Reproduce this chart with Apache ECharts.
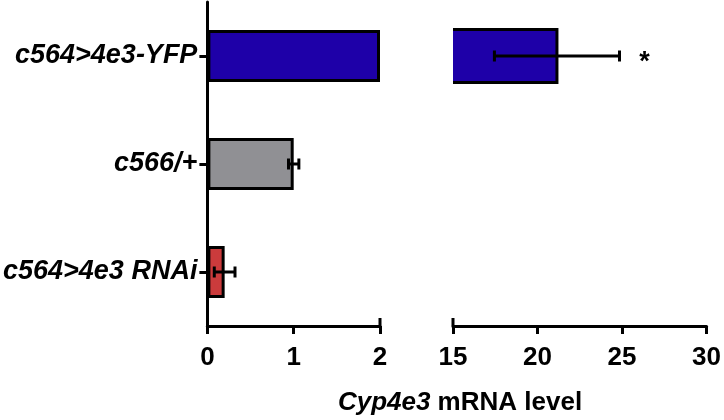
<!DOCTYPE html>
<html>
<head>
<meta charset="utf-8">
<script src="https://cdn.jsdelivr.net/npm/echarts@6/dist/echarts.min.js"></script>
<style>
html,body{margin:0;padding:0;background:#fff;}
#chart{width:724px;height:420px;}
</style>
</head>
<body>
<div id="chart"></div>
<script>
// ---- data ----
const categories = ['c564>4e3-YFP', 'c566/+', 'c564>4e3 RNAi'];
const means = [21.15, 1.0, 0.2];
const sems = [3.7, 0.06, 0.12];
const barColors = ['#1E00A8', '#909094', '#CB3B3C'];
const marks = ['*', '', ''];
const leftAxis = { min: 0, max: 2, interval: 1 };
const rightAxis = { min: 15, max: 30, interval: 5 };
const axisTitleItalic = 'Cyp4e3';
const axisTitleRest = ' mRNA level';

// ---- chart ----
const FONT = 'Liberation Sans, Arial, Helvetica, sans-serif';
const chart = echarts.init(document.getElementById('chart'), null, { renderer: 'canvas' });

const leftBarData = means.map((v, i) => ({ value: Math.min(v, leftAxis.max), itemStyle: { color: barColors[i] } }));
const rightBarData = means.map((v, i) => v > rightAxis.min ? [v, i] : null).filter(d => d);
const errLeft = means.map((v, i) => (v + sems[i] <= leftAxis.max) ? [i, v - sems[i], v + sems[i], i] : null).filter(d => d);
const errRight = means.map((v, i) => (v > rightAxis.min) ? [i, v - sems[i], v + sems[i], i] : null).filter(d => d);

function errRender(params, api) {
  const idx = api.value(3);
  const lo = api.coord([api.value(1), api.value(0)]);
  const hi = api.coord([api.value(2), api.value(0)]);
  const cap = 5.5;
  const st = { stroke: '#000', lineWidth: 3 };
  const children = [
    { type: 'line', shape: { x1: lo[0], y1: lo[1], x2: hi[0], y2: hi[1] }, style: st },
    { type: 'line', shape: { x1: lo[0], y1: lo[1] - cap, x2: lo[0], y2: lo[1] + cap }, style: st },
    { type: 'line', shape: { x1: hi[0], y1: hi[1] - cap, x2: hi[0], y2: hi[1] + cap }, style: st }
  ];
  if (marks[idx]) {
    children.push({ type: 'text', style: { text: marks[idx], x: hi[0] + 25, y: hi[1] + 7, textAlign: 'center', textVerticalAlign: 'middle', fontSize: 27, fontWeight: 'bold', fontFamily: FONT, fill: '#000' } });
  }
  return { type: 'group', children };
}

function rightBarRender(params, api) {
  const i = api.value(1);
  const start = api.coord([rightAxis.min, i]);
  const end = api.coord([api.value(0), i]);
  const h = api.size([0, 1])[1] * 0.49;
  const top = start[1] - h / 2, bot = start[1] + h / 2;
  return {
    type: 'group',
    children: [
      { type: 'rect', shape: { x: start[0], y: top, width: end[0] - start[0], height: h }, style: { fill: barColors[i] } },
      { type: 'polyline', shape: { points: [[start[0], top], [end[0], top], [end[0], bot], [start[0], bot]] }, style: { fill: null, stroke: '#000', lineWidth: 3 } }
    ]
  };
}

function breakCapRender(params, api) {
  const x = api.coord([api.value(0), 0])[0];
  const yb = params.coordSys.y + params.coordSys.height;
  return { type: 'line', shape: { x1: x, y1: yb - 8, x2: x, y2: yb }, style: { stroke: '#000', lineWidth: 3 } };
}

const xAxisCommon = {
  type: 'value',
  splitLine: { show: false },
  axisLine: { show: true, lineStyle: { color: '#000', width: 3 } },
  axisTick: { show: true, length: 8, lineStyle: { color: '#000', width: 3 } },
  axisLabel: { color: '#000', fontSize: 26, fontWeight: 'bold', fontFamily: FONT, margin: 19 }
};

chart.setOption({
  animation: false,
  backgroundColor: '#fff',
  grid: [
    { left: 206, top: 2, width: 174, height: 324 },
    { left: 453, top: 2, width: 256, height: 324 }
  ],
  xAxis: [
    Object.assign({ gridIndex: 0 }, xAxisCommon, leftAxis),
    Object.assign({ gridIndex: 1 }, xAxisCommon, rightAxis)
  ],
  yAxis: [
    {
      gridIndex: 0, type: 'category', data: categories, inverse: true,
      axisLine: { show: true, lineStyle: { color: '#000', width: 3 } },
      axisTick: { show: true, length: 8, alignWithLabel: true, lineStyle: { color: '#000', width: 3 } },
      axisLabel: { color: '#000', fontSize: 27, fontWeight: 'bold', fontStyle: 'italic', fontFamily: FONT, margin: 10 }
    },
    { gridIndex: 1, type: 'category', data: categories, inverse: true, show: false }
  ],
  series: [
    {
      type: 'bar', xAxisIndex: 0, yAxisIndex: 0, data: leftBarData, barWidth: '48%',
      itemStyle: { borderColor: '#000', borderWidth: 3 }
    },
    { type: 'custom', xAxisIndex: 1, yAxisIndex: 1, data: rightBarData, renderItem: rightBarRender, encode: { x: 0, y: 1 }, clip: false },
    { type: 'custom', xAxisIndex: 0, yAxisIndex: 0, data: errLeft, renderItem: errRender, encode: { x: [1, 2], y: 0 }, clip: false, z: 5 },
    { type: 'custom', xAxisIndex: 1, yAxisIndex: 1, data: errRight, renderItem: errRender, encode: { x: [1, 2], y: 0 }, clip: false, z: 5 },
    { type: 'custom', xAxisIndex: 0, yAxisIndex: 0, data: [[leftAxis.max, 0]], renderItem: breakCapRender, encode: { x: 0, y: 1 }, clip: false, z: 5 },
    { type: 'custom', xAxisIndex: 1, yAxisIndex: 1, data: [[rightAxis.min, 0]], renderItem: breakCapRender, encode: { x: 0, y: 1 }, clip: false, z: 5 }
  ],
  graphic: [
    {
      type: 'text', x: 460, y: 403,
      style: {
        text: '{i|' + axisTitleItalic + '}{n|' + axisTitleRest + '}',
        textAlign: 'center', textVerticalAlign: 'middle',
        rich: {
          i: { fontSize: 26, fontWeight: 'bold', fontStyle: 'italic', fontFamily: FONT, fill: '#000' },
          n: { fontSize: 26, fontWeight: 'bold', fontFamily: FONT, fill: '#000' }
        }
      }
    }
  ]
});
</script>
</body>
</html>
